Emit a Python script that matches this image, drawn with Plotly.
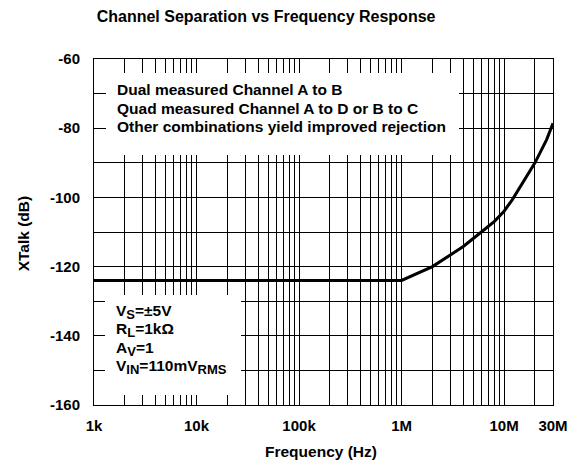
import plotly.graph_objects as go

# ---- data ----
freq_hz = [1e3, 1e6, 2e6, 3e6, 4e6, 6e6, 8e6, 10e6, 12e6, 20e6, 26e6, 30e6]
xtalk_db = [-124, -124, -120, -116.6, -114.2, -110, -107, -104, -100.7, -90, -83.3, -78.6]

x_tick_vals = [1e3, 1e4, 1e5, 1e6, 1e7, 3e7]
x_tick_text = ["1k", "10k", "100k", "1M", "10M", "30M"]
x_minor_vals = [m * 10 ** e for e in range(3, 7) for m in range(2, 10)] + [2e7]

y_tick_vals = [-160, -140, -120, -100, -80, -60]
y_tick_text = ["-160", "-140", "-120", "-100", "-80", "-60"]
y_minor_vals = [-150, -130, -110, -90, -70]

note_top = ["Dual measured Channel A to B",
            "Quad measured Channel A to D or B to C",
            "Other combinations yield improved rejection"]
SUB = '<sub><span style="font-size:13px">%s</span></sub>'
note_bottom = ["V" + SUB % "S" + "=±5V",
               "R" + SUB % "L" + "=1kΩ",
               "A" + SUB % "V" + "=1",
               "V" + SUB % "IN" + "=110mV" + SUB % "RMS"]

FONT = "Liberation Sans, Arial, Helvetica, sans-serif"
FS = 15.5
PLOT_W, PLOT_H = 459.3, 346.0

fig = go.Figure()
fig.add_trace(go.Scatter(x=freq_hz, y=xtalk_db, mode="lines",
                         line=dict(color="black", width=3),
                         showlegend=False, hoverinfo="skip"))

fig.update_layout(
    width=578, height=468,
    margin=dict(l=94, r=25, t=59, b=63, autoexpand=False),
    paper_bgcolor="white", plot_bgcolor="white",
    font=dict(family=FONT, size=FS, color="black"),
    title=dict(text="<b>Channel Separation vs Frequency Response</b>",
               x=96.7 / 578, xanchor="left", xref="container",
               y=1 - 16.6 / 468, yanchor="middle", yref="container",
               font=dict(family=FONT, size=16, color="black")),
)

fig.update_xaxes(
    type="log", range=[3, 7.4771], automargin=False,
    tickmode="array", tickvals=x_tick_vals,
    ticktext=["<b>%s</b>" % t for t in x_tick_text],
    ticks="", ticklabelstandoff=7,
    showgrid=True, gridcolor="black", gridwidth=1,
    minor=dict(tickmode="array", tickvals=x_minor_vals, showgrid=True,
               gridcolor="black", gridwidth=1, ticks=""),
    showline=True, linecolor="black", linewidth=1, mirror=True,
    zeroline=False, tickfont=dict(size=15),
)
fig.update_yaxes(
    range=[-160, -60], automargin=False,
    tickmode="array", tickvals=y_tick_vals,
    ticktext=["<b>%s</b>" % t for t in y_tick_text],
    ticks="", ticklabelstandoff=10,
    showgrid=True, gridcolor="black", gridwidth=1,
    minor=dict(tickmode="array", tickvals=y_minor_vals, showgrid=True,
               gridcolor="black", gridwidth=1, ticks=""),
    showline=True, linecolor="black", linewidth=1, mirror=True,
    zeroline=False, tickfont=dict(size=15),
)

# axis titles
fig.add_annotation(text="<b>Frequency (Hz)</b>", xref="paper", yref="paper",
                   x=(321 - 93.7) / PLOT_W, y=(405 - 451) / PLOT_H,
                   xanchor="center", yanchor="middle", showarrow=False,
                   font=dict(family=FONT, size=FS, color="black"))
fig.add_annotation(text="<b>XTalk (dB)</b>", xref="paper", yref="paper",
                   x=(23 - 93.7) / PLOT_W, y=(405 - 233) / PLOT_H,
                   xanchor="center", yanchor="middle", textangle=-90,
                   showarrow=False, font=dict(family=FONT, size=FS, color="black"))

# white panels hiding the grid behind the notes
fig.add_annotation(text=" ", xref="paper", yref="paper",
                   x=(106 - 93.7) / PLOT_W, y=(405 - 73) / PLOT_H,
                   xanchor="left", yanchor="top", width=353, height=82,
                   bgcolor="white", borderpad=0, borderwidth=0, showarrow=False)
fig.add_annotation(text=" ", xref="paper", yref="paper",
                   x=(105 - 93.7) / PLOT_W, y=(405 - 295) / PLOT_H,
                   xanchor="left", yanchor="top", width=136, height=100,
                   bgcolor="white", borderpad=0, borderwidth=0, showarrow=False)

top_y = [89, 108.3, 126.7]
for txt, yy in zip(note_top, top_y):
    fig.add_annotation(text="<b>%s</b>" % txt, xref="paper", yref="paper",
                       x=(115 - 93.7) / PLOT_W, y=(405 - yy) / PLOT_H,
                       xanchor="left", yanchor="middle",
                       showarrow=False, font=dict(family=FONT, size=FS, color="black"))

bot_y = [312, 330, 348.5, 367]
for txt, yy in zip(note_bottom, bot_y):
    fig.add_annotation(text="<b>%s</b>" % txt, xref="paper", yref="paper",
                       x=(114 - 93.7) / PLOT_W, y=(405 - yy) / PLOT_H,
                       xanchor="left", yanchor="middle",
                       showarrow=False, font=dict(family=FONT, size=FS, color="black"))

fig.write_html("out.html", config={"displayModeBar": False},
               post_script="document.body.style.margin='0px';")
